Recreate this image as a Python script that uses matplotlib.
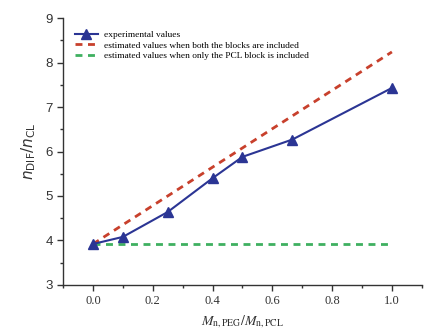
import matplotlib
matplotlib.use("Agg")
import matplotlib.pyplot as plt
from matplotlib.ticker import MultipleLocator

x_exp = [0.0, 0.1, 0.25, 0.4, 0.5, 0.667, 1.0]
y_exp = [3.92, 4.08, 4.64, 5.40, 5.88, 6.27, 7.43]
x_both = [0.0, 1.0]
y_both = [3.92, 8.24]
x_pcl = [0.0, 1.0]
y_pcl = [3.92, 3.92]

labels = ["experimental values",
          "estimated values when both the blocks are included",
          "estimated values when only the PCL block is included"]

fig = plt.figure(figsize=(4.44, 3.36), dpi=100)
ax = fig.add_axes([0.142, 0.152, 0.808, 0.794])

ax.plot(x_both, y_both, color="#c8402c", lw=2.0, ls=(0, (2.5, 2)), label=labels[1], zorder=2)
ax.plot(x_pcl, y_pcl, color="#3fb060", lw=2.0, ls=(0, (2.5, 2)), label=labels[2], zorder=2)
ax.plot(x_exp, y_exp, color="#2b3594", lw=1.5, marker="^", ms=7, label=labels[0], zorder=3)

ax.set_xlim(-0.1, 1.1)
ax.set_ylim(3, 9)
ax.xaxis.set_major_locator(MultipleLocator(0.2))
ax.xaxis.set_minor_locator(MultipleLocator(0.1))
ax.yaxis.set_major_locator(MultipleLocator(1))
ax.yaxis.set_minor_locator(MultipleLocator(0.5))
ax.spines["top"].set_visible(False)
ax.spines["right"].set_visible(False)
for s in ("left", "bottom"):
    ax.spines[s].set_linewidth(1.0)
    ax.spines[s].set_color("#333333")
ax.tick_params(which="major", direction="out", length=4, width=1, color="#333333")
ax.tick_params(which="minor", direction="out", length=2.5, width=1, color="#333333")
ax.tick_params(axis="y", labelsize=9.5, labelcolor="#333333")
ax.tick_params(axis="x", labelsize=9, labelcolor="#333333")
ax.xaxis.set_major_formatter(plt.FuncFormatter(lambda v, p: f"{v:.1f}"))
for t in ax.get_xticklabels():
    t.set_family("Liberation Serif")
for t in ax.get_yticklabels():
    t.set_family("Liberation Sans")

xl = ax.set_xlabel(r"$M_{\mathrm{n,PEG}}/M_{\mathrm{n,PCL}}$", fontsize=10, color="#333333", labelpad=4)
xl.set_math_fontfamily("stix")
yl = ax.set_ylabel(r"$n_{\mathrm{DIF}}/n_{\mathrm{CL}}$", fontsize=11, color="#333333", labelpad=5)
yl.set_math_fontfamily("dejavusans")

h, l = ax.get_legend_handles_labels()
order = [2, 0, 1]
leg = ax.legend([h[i] for i in order], [l[i] for i in order], loc="upper left",
                bbox_to_anchor=(0.01, 0.985), frameon=False,
                prop={"family": "Liberation Serif", "size": 6.75},
                handlelength=2.4, handletextpad=0.7, labelspacing=0.22)

fig.savefig("out.png", dpi=100)
